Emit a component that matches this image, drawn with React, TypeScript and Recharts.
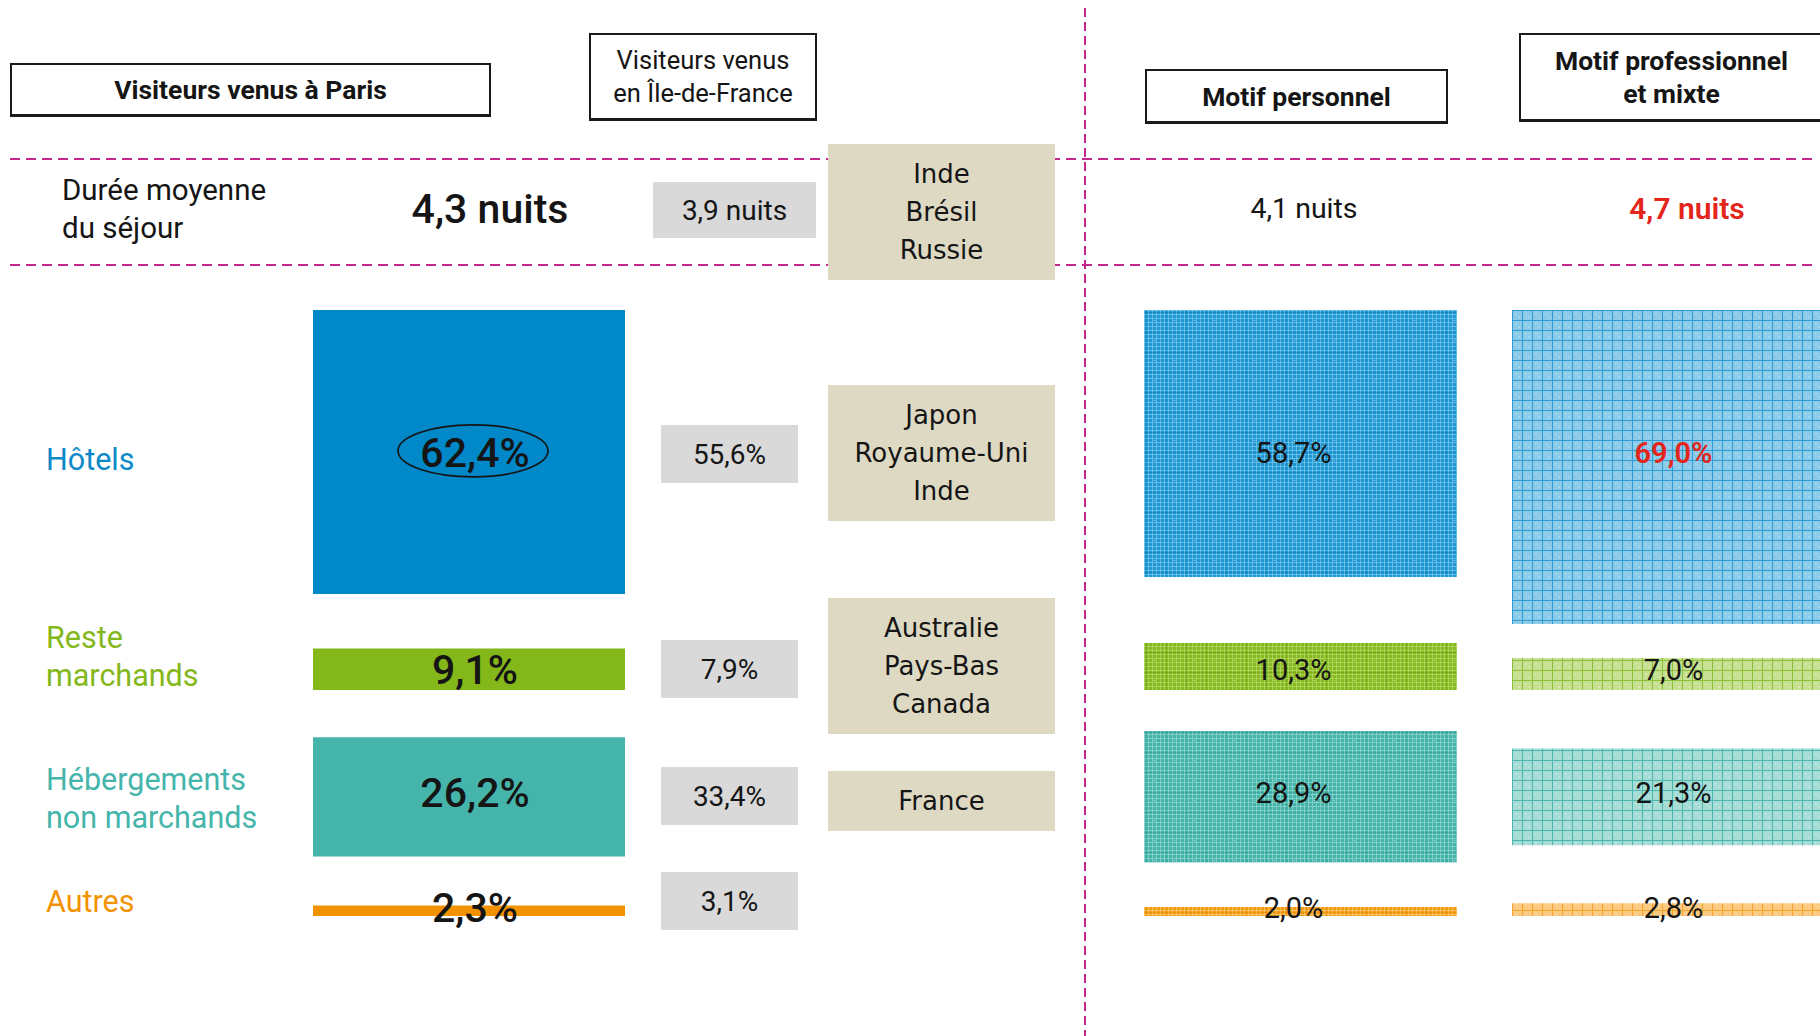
import React from 'react';
import { BarChart, Bar, XAxis, YAxis, ReferenceDot } from 'recharts';

// ---------- DATA ----------
const CATEGORY_LINES = [['Hôtels'], ['Reste', 'marchands'], ['Hébergements', 'non marchands'], ['Autres']];
const CATEGORY_COLORS = ['#0b89c8', '#84b71a', '#45b5ac', '#f39200'];
const PARIS = [62.4, 9.1, 26.2, 2.3];
const IDF = [55.6, 7.9, 33.4, 3.1];
const PERSONNEL = [58.7, 10.3, 28.9, 2.0];
const PRO = [69.0, 7.0, 21.3, 2.8];
const NUITS = [4.3, 3.9, 4.1, 4.7]; // Paris, Île-de-France, personnel, professionnel
const PAYS = [
  ['Inde', 'Brésil', 'Russie'],
  ['Japon', 'Royaume-Uni', 'Inde'],
  ['Australie', 'Pays-Bas', 'Canada'],
  ['France'],
];

// ---------- LAYOUT ----------
const CHART_TOP = 310;
const CHART_H = 637;
const Y_MAX = 140;
const ANCHOR_RESTE_BOTTOM = 83.5;
const ANCHOR_HEB_CENTER = 107;
const ANCHOR_AUTRES_BOTTOM = 133.2;
const ROW_MID = [31.4, 79.1, 106.2, 131.4];
const LABEL_Y = [460, 657, 799, 902];
const IDF_BOX_TOP = [425, 640, 767, 872];
const PAYS_TOP = [144, 385, 598, 771];

const fmt = (v: number) => v.toFixed(1).replace('.', ',');
const FONT = 'Roboto, "Noto Sans", sans-serif';
const INK = '#151515';

function buildRow(name: string, v: number[]) {
  const s1 = ANCHOR_RESTE_BOTTOM - v[1];
  const s2 = ANCHOR_HEB_CENTER - v[2] / 2;
  const s3 = ANCHOR_AUTRES_BOTTOM - v[3];
  return {
    name,
    v0: v[0],
    g0: s1 - v[0],
    v1: v[1],
    g1: s2 - (s1 + v[1]),
    v2: v[2],
    g2: s3 - (s2 + v[2]),
    v3: v[3],
  };
}

function FinePattern({ id, base, light, dark }: { id: string; base: string; light: string; dark: string }) {
  const lines = [0, 4, 8, 12, 16];
  return (
    <pattern id={id} width={20} height={20} patternUnits="userSpaceOnUse">
      <rect width={20} height={20} fill={base} />
      {lines.map((p) => (
        <g key={p}>
          <rect x={p} y={0} width={1} height={20} fill={light} />
          <rect x={0} y={p} width={20} height={1} fill={light} />
        </g>
      ))}
      <rect x={2} y={0} width={1} height={20} fill={dark} opacity={0.5} />
      <rect x={0} y={2} width={20} height={1} fill={dark} opacity={0.5} />
      <rect x={10} y={10} width={1} height={1} fill="#ffffff" opacity={0.7} />
    </pattern>
  );
}

function CoarsePattern({ id, base, line, dot }: { id: string; base: string; line: string; dot: string }) {
  return (
    <pattern id={id} width={10} height={10} patternUnits="userSpaceOnUse">
      <rect width={10} height={10} fill={base} />
      <rect x={3} y={3} width={2} height={2} fill={dot} opacity={0.6} />
      <rect x={6} y={6} width={2} height={2} fill={dot} opacity={0.6} />
      <rect x={0} y={0} width={1} height={10} fill={line} />
      <rect x={0} y={0} width={10} height={1} fill={line} />
    </pattern>
  );
}

type ColProps = {
  name: string;
  values: number[];
  left: number;
  width: number;
  fills: string[];
  labelSize: number;
  labelWeights: number[];
  labelColors: string[];
  labelDx: number;
  ellipseFirst?: boolean;
  defs?: React.ReactNode;
};

function Column({ name, values, left, width, fills, labelSize, labelWeights, labelColors, labelDx, ellipseFirst, defs }: ColProps) {
  const data = [buildRow(name, values)];
  return (
    <div style={{ position: 'absolute', left, top: CHART_TOP }}>
      <BarChart
        width={width}
        height={CHART_H}
        data={data}
        margin={{ top: 0, right: 0, bottom: 0, left: 0 }}
        barCategoryGap={0}
        barGap={0}
      >
        {defs ? <defs>{defs}</defs> : null}
        <XAxis dataKey="name" hide />
        <YAxis type="number" hide reversed domain={[0, Y_MAX]} />
        <Bar dataKey="v0" stackId="s" fill={fills[0]} isAnimationActive={false} />
        <Bar dataKey="g0" stackId="s" fill="transparent" isAnimationActive={false} />
        <Bar dataKey="v1" stackId="s" fill={fills[1]} isAnimationActive={false} />
        <Bar dataKey="g1" stackId="s" fill="transparent" isAnimationActive={false} />
        <Bar dataKey="v2" stackId="s" fill={fills[2]} isAnimationActive={false} />
        <Bar dataKey="g2" stackId="s" fill="transparent" isAnimationActive={false} />
        <Bar dataKey="v3" stackId="s" fill={fills[3]} isAnimationActive={false} />
        {values.map((v, i) => (
          <ReferenceDot
            key={i}
            x={name}
            y={ROW_MID[i]}
            r={0}
            fill="none"
            stroke="none"
            ifOverflow="visible"
            label={(p: any) => {
              const vb = p.viewBox || { x: 0, y: 0, width: 0, height: 0 };
              const cx = vb.x + (vb.width || 0) / 2;
              const cy = vb.y + (vb.height || 0) / 2;
              return (
                <g>
                  {ellipseFirst && i === 0 ? (
                    <ellipse cx={cx + 4} cy={cy - 2} rx={75} ry={26} fill="none" stroke={INK} strokeWidth={1.6} />
                  ) : null}
                  <text
                    x={cx + labelDx}
                    y={cy}
                    textAnchor="middle"
                    dominantBaseline="central"
                    fontFamily={FONT}
                    fontSize={labelSize}
                    fontWeight={labelWeights[i]}
                    fill={labelColors[i]}
                  >
                    {fmt(v) + '%'}
                  </text>
                </g>
              );
            }}
          />
        ))}
      </BarChart>
    </div>
  );
}

function Lines({ lines, lh }: { lines: string[]; lh: number }) {
  return (
    <>
      {lines.map((l, i) => (
        <div key={i} style={{ lineHeight: lh + 'px', whiteSpace: 'nowrap' }}>
          {l}
        </div>
      ))}
    </>
  );
}

const abs = (s: React.CSSProperties): React.CSSProperties => ({ position: 'absolute', ...s });

function HeaderBox({ left, top, width, height, lines, bold, size }: any) {
  return (
    <div
      style={abs({
        left,
        top,
        width,
        height,
        boxSizing: 'border-box',
        border: '2px solid #1a1a1a',
        borderBottomWidth: 3,
        display: 'flex',
        flexDirection: 'column',
        alignItems: 'center',
        justifyContent: 'center',
        fontFamily: FONT,
        fontWeight: bold ? 700 : 400,
        fontSize: size,
        color: INK,
        textAlign: 'center',
        background: '#fff',
      })}
    >
      <Lines lines={lines} lh={33} />
    </div>
  );
}

function CenterText({ x, y, size, weight = 400, color = INK, children, family = FONT }: any) {
  return (
    <div
      style={abs({
        left: x,
        top: y,
        transform: 'translate(-50%, -50%)',
        fontFamily: family,
        fontSize: size,
        fontWeight: weight,
        color,
        whiteSpace: 'nowrap',
        lineHeight: 1,
      })}
    >
      {children}
    </div>
  );
}

export default function App() {
  const parisFills = ['#0088c9', '#84b71a', '#45b5ac', '#f39200'];
  const persoDefs = (
    <>
      <FinePattern id="pfBlue" base="#1e96d2" light="#66bde8" dark="#0a7fbf" />
      <FinePattern id="pfGreen" base="#86b81f" light="#add25a" dark="#6fa010" />
      <FinePattern id="pfTeal" base="#42b3a9" light="#83cec7" dark="#2fa096" />
      <FinePattern id="pfOrange" base="#f39a12" light="#f8c060" dark="#e58a00" />
    </>
  );
  const proDefs = (
    <>
      <CoarsePattern id="pcBlue" base="#8bcae9" line="#2f9cd6" dot="#a9daf1" />
      <CoarsePattern id="pcGreen" base="#c6e092" line="#8dbf3a" dot="#d6e9b0" />
      <CoarsePattern id="pcTeal" base="#a6dcd6" line="#4cb7ac" dot="#bfe6e1" />
      <CoarsePattern id="pcOrange" base="#fbc97f" line="#f4a32c" dot="#fdd8a2" />
    </>
  );

  return (
    <div
      style={{
        position: 'absolute',
        left: 0,
        top: 0,
        width: 1820,
        height: 1036,
        overflow: 'hidden',
        background: '#ffffff',
        fontFamily: FONT,
      }}
    >
      {/* dashed guide lines */}
      <svg width={1820} height={1036} style={abs({ left: 0, top: 0 })}>
        <line x1={10} y1={159} x2={1815} y2={159} stroke="#c4268c" strokeWidth={2} strokeDasharray="10 6" />
        <line x1={10} y1={265} x2={1815} y2={265} stroke="#c4268c" strokeWidth={2} strokeDasharray="10 6" />
        <line x1={1085} y1={8} x2={1085} y2={1036} stroke="#c4268c" strokeWidth={2} strokeDasharray="9 5" />
      </svg>

      {/* headers */}
      <HeaderBox left={10} top={63} width={481} height={54} lines={['Visiteurs venus à Paris']} bold size={26.5} />
      <HeaderBox left={589} top={33} width={228} height={88} lines={['Visiteurs venus', 'en Île-de-France']} size={25.5} />
      <HeaderBox left={1145} top={69} width={303} height={55} lines={['Motif personnel']} bold size={26.5} />
      <HeaderBox left={1519} top={33} width={305} height={89} lines={['Motif professionnel', 'et mixte']} bold size={26.5} />

      {/* nights row */}
      <div style={abs({ left: 62, top: 209, transform: 'translateY(-50%)', fontSize: 29.5, color: INK })}>
        <Lines lines={['Durée moyenne', 'du séjour']} lh={38} />
      </div>
      <CenterText x={490} y={209} size={41} weight={500}>
        {fmt(NUITS[0]) + ' nuits'}
      </CenterText>
      <div
        style={abs({
          left: 653,
          top: 182,
          width: 163,
          height: 56,
          background: '#d9d9d9',
          display: 'flex',
          alignItems: 'center',
          justifyContent: 'center',
          fontSize: 28,
          color: INK,
        })}
      >
        {fmt(NUITS[1]) + ' nuits'}
      </div>
      <CenterText x={1304} y={209} size={28.5}>
        {fmt(NUITS[2]) + ' nuits'}
      </CenterText>
      <CenterText x={1687} y={209} size={30} weight={600} color="#e3251b">
        {fmt(NUITS[3]) + ' nuits'}
      </CenterText>

      {/* category labels */}
      {CATEGORY_LINES.map((lines, i) => (
        <div
          key={i}
          style={abs({ left: 46, top: LABEL_Y[i], transform: 'translateY(-50%)', fontSize: 30.5, color: CATEGORY_COLORS[i] })}
        >
          <Lines lines={lines} lh={38} />
        </div>
      ))}

      {/* Paris bars */}
      <Column
        name="Paris"
        values={PARIS}
        left={313}
        width={312}
        fills={parisFills}
        labelSize={41}
        labelWeights={[500, 500, 500, 500]}
        labelColors={[INK, INK, INK, INK]}
        labelDx={6}
        ellipseFirst
      />

      {/* Île-de-France boxes */}
      {IDF.map((v, i) => (
        <div
          key={i}
          style={abs({
            left: 661,
            top: IDF_BOX_TOP[i],
            width: 137,
            height: 58,
            background: '#d9d9d9',
            display: 'flex',
            alignItems: 'center',
            justifyContent: 'center',
            fontSize: 28,
            color: INK,
          })}
        >
          {fmt(v) + '%'}
        </div>
      ))}

      {/* countries */}
      {PAYS.map((lines, i) => (
        <div
          key={i}
          style={abs({
            left: 828,
            top: PAYS_TOP[i],
            width: 227,
            height: lines.length * 38 + 22,
            background: '#ddd9c3',
            display: 'flex',
            flexDirection: 'column',
            alignItems: 'center',
            justifyContent: 'center',
            fontFamily: '"DejaVu Sans", sans-serif',
            fontSize: 26,
            color: INK,
          })}
        >
          <Lines lines={lines} lh={38} />
        </div>
      ))}

      {/* Motif personnel */}
      <Column
        name="Personnel"
        values={PERSONNEL}
        left={1144}
        width={313}
        fills={['url(#pfBlue)', 'url(#pfGreen)', 'url(#pfTeal)', 'url(#pfOrange)']}
        labelSize={29}
        labelWeights={[400, 400, 400, 400]}
        labelColors={[INK, INK, INK, INK]}
        labelDx={-7}
        defs={persoDefs}
      />

      {/* Motif professionnel et mixte */}
      <Column
        name="Pro"
        values={PRO}
        left={1512}
        width={313}
        fills={['url(#pcBlue)', 'url(#pcGreen)', 'url(#pcTeal)', 'url(#pcOrange)']}
        labelSize={29}
        labelWeights={[600, 400, 400, 400]}
        labelColors={['#e3251b', INK, INK, INK]}
        labelDx={5}
        defs={proDefs}
      />
    </div>
  );
}
